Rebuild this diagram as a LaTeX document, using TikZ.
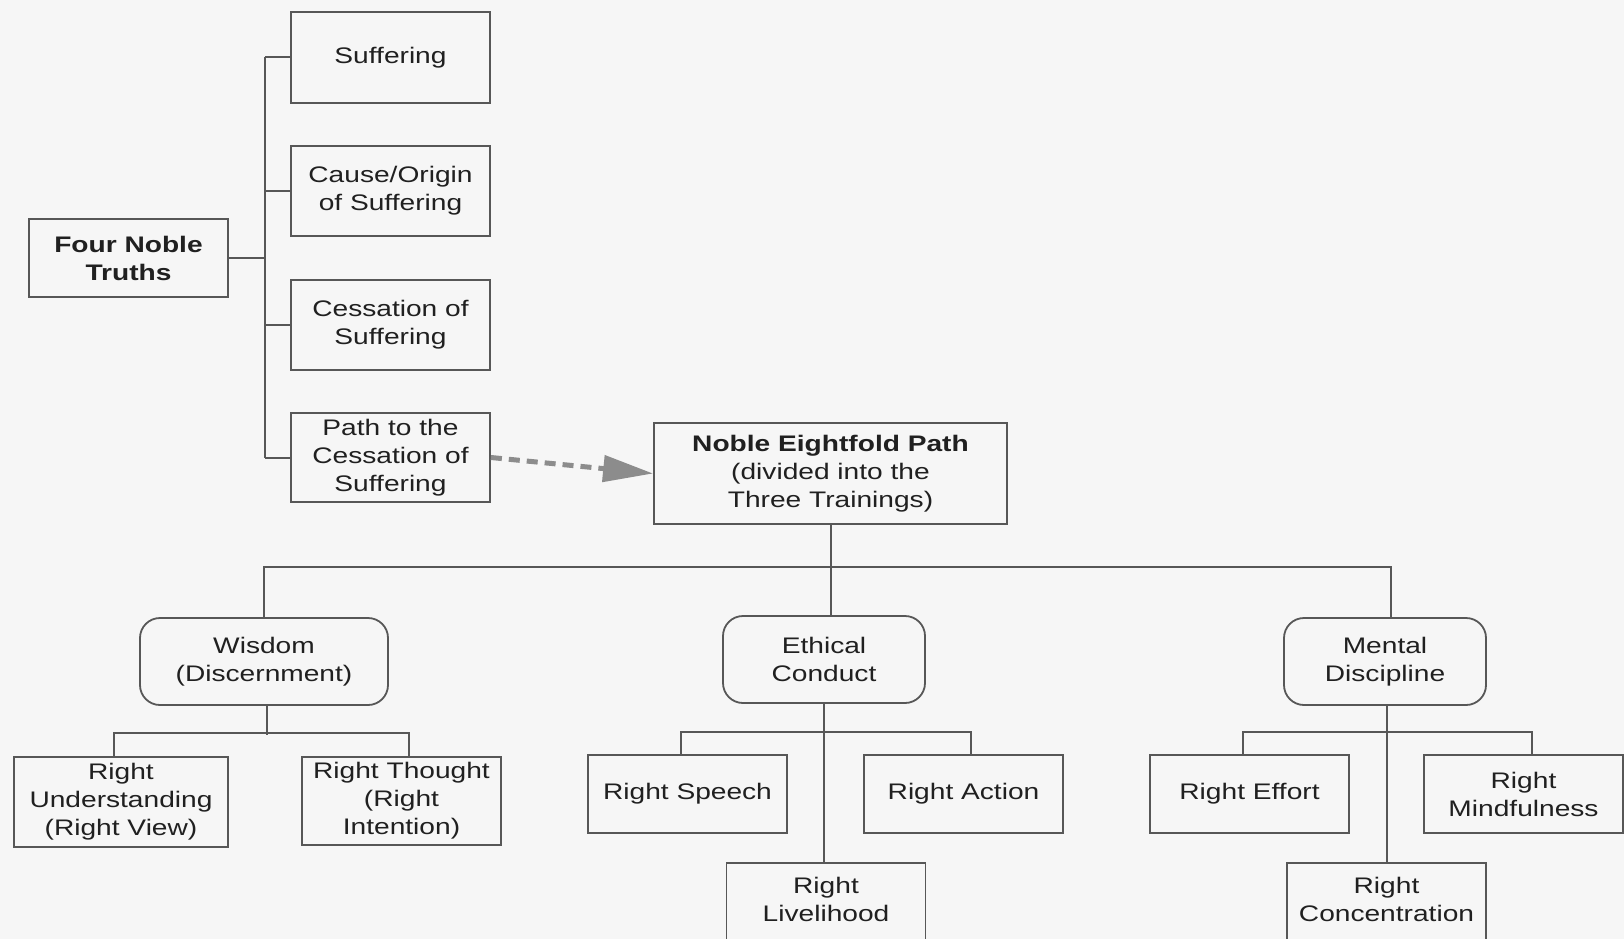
\documentclass[tikz,border=0pt]{standalone}
\usepackage{fontspec}
\setmainfont{Liberation Sans}[FakeStretch=1.25]
\usetikzlibrary{arrows.meta,positioning}
\definecolor{bgc}{HTML}{F6F6F6}
\definecolor{linec}{HTML}{575757}
\definecolor{txtc}{HTML}{202020}
\definecolor{arrc}{HTML}{8C8C8C}

\begin{document}
\begin{tikzpicture}[x=1pt,y=-1pt,
    box/.style={draw=linec,line width=1.8pt,text=txtc,align=center,inner sep=0pt,
      minimum width=199pt,minimum height=#1,font=\fontsize{22.5}{28}\selectfont},
    box/.default=90pt,
    group/.style={box=87pt,rounded corners=20pt},
    link/.style={draw=linec,line width=2pt},
    flow/.style={draw=arrc,line width=5pt,dash pattern=on 11pt off 7pt,
      -{Triangle[length=50pt,width=26pt]}}]
      \useasboundingbox (0,0) rectangle (1624,939);
      \fill[bgc] (0,0) rectangle (1624,939);
        \node[box=78pt,font=\bfseries\fontsize{22.5}{28}\selectfont] (truths) at (128.5,258) {Four Noble\\Truths};
        \node[box=91pt] (suff) at (390.5,57.5) {Suffering};
        \node[box] (cause) at (390.5,191) {Cause/Origin\\of Suffering};
        \node[box] (cess) at (390.5,325) {Cessation of\\Suffering};
        \node[box=89pt] (path) at (390.5,457.5) {Path to the\\Cessation of\\Suffering};
        \node[box=101pt,minimum width=353pt] (eight) at (830.5,473.5) {\textbf{Noble Eightfold Path}\\(divided into the\\Three Trainings)};
        \node[group,minimum width=248pt] (wisdom) at (264,661.5) {Wisdom\\(Discernment)};
        \node[group,minimum width=202pt] (ethical) at (824,659.5) {Ethical\\Conduct};
        \node[group,minimum width=202pt] (mental) at (1385,661.5) {Mental\\Discipline};
        \node[box,minimum width=214pt] (underst) at (121,802) {Right\\Understanding\\(Right View)};
        \node[box=88pt] (thought) at (401.5,801) {Right Thought\\(Right\\Intention)};
        \node[box=78pt] (speech) at (687.5,794) {Right Speech};
        \node[box=78pt] (action) at (963.5,794) {Right Action};
        \node[box=101pt] (liveli) at (826,913.5) {Right\\Livelihood\\~};
        \node[box=78pt] (effort) at (1249.5,794) {Right Effort};
        \node[box=78pt] (mindful) at (1523.5,794) {Right\\Mindfulness};
        \node[box=101pt] (concen) at (1386.5,913.5) {Right\\Concentration\\~};
      \coordinate (trunk) at (265,0);
        \draw[link] (truths.east) -- (truths.east -| trunk);
        \draw[link] (suff.west -| trunk) -- (path.west -| trunk);
        \foreach \n in {suff,cause,cess,path}
          \draw[link] (\n.west) -- (\n.west -| trunk);
        \draw[flow] (path.east) -- (eight.west);
        \draw[link] (eight.south) -- (eight.south |- ethical.north);
        \draw[link] (wisdom.north) -- ++(0,-50) -| ([xshift=6pt]mental.north);
        \draw[link] ([xshift=3pt]wisdom.south) -- ++(0,29);
        \draw[link] ([xshift=-7pt]underst.north) -- ++(0,-23) -| ([xshift=7pt]thought.north);
        \draw[link] (ethical.south) -- (ethical.south |- liveli.north);
        \draw[link] ([xshift=-7pt]speech.north) -- ++(0,-22) -| ([xshift=7pt]action.north);
        \draw[link] ([xshift=2pt]mental.south) -- ([xshift=2pt]mental.south |- concen.north);
        \draw[link] ([xshift=-7pt]effort.north) -- ++(0,-22) -| ([xshift=8pt]mindful.north);
    \end{tikzpicture}
\end{document}
